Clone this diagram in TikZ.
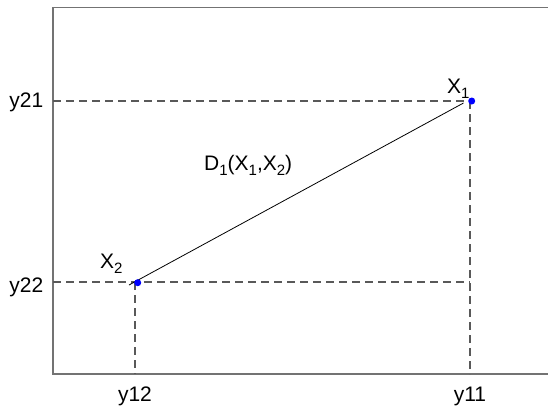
\documentclass[tikz,border=0pt]{standalone}
\usepackage{fontspec}
\setmainfont{Liberation Sans}
\newcommand{\lowsub}[1]{\raisebox{-5pt}{\fontsize{15}{15}\selectfont #1}}
\begin{document}
\begin{tikzpicture}[x=1pt,y=-1pt,
  axisline/.style={draw=black!55, line width=1.8pt},
  guide/.style={draw=black!65, line width=1.1pt, dash pattern=on 8pt off 5pt},
  distline/.style={draw=black, line width=0.8pt},
  pointdot/.style={circle, fill=blue, inner sep=0pt, minimum size=7pt},
  lbl/.style={inner sep=0pt, font=\fontsize{21}{22}\selectfont}
]
\useasboundingbox[clip] (0,0) rectangle (548,405);
\fill[white] (0,0) rectangle (548,405);
% axes
\coordinate (tl) at (53,7.5);
\coordinate (tr) at (548,7.5);
\coordinate (bl) at (53,374);
\coordinate (br) at (548,374);
\draw[axisline] (tr) -- (tl) -- (bl) -- (br);
% guide coordinates
\coordinate (h1s) at (53,101);
\coordinate (h1e) at (470,101);
\coordinate (v1b) at (470,374);
\coordinate (h2s) at (53,282);
\coordinate (h2e) at (470,282);
\coordinate (v2t) at (135,282);
\coordinate (v2b) at (135,374);
\draw[guide] (h1s) -- (h1e);
\draw[guide] (h1e) -- (v1b);
\draw[guide] (h2s) -- (h2e);
\draw[guide] (v2t) -- (v2b);
% distance line
\coordinate (la) at (129,285);
\coordinate (lb) at (463.5,103);
\draw[distline] (la) -- (lb);
% points
\node[pointdot] (x1) at (471.7,101) {};
\node[pointdot] (x2) at (137.7,282.7) {};
% labels
\node[lbl, anchor=base west] (lx1) at (447,93) {X\lowsub{1}};
\node[lbl, anchor=base west] (lx2) at (100,268) {X\lowsub{2}};
\node[lbl, anchor=base west] (ld) at (204,170) {D\lowsub{1}(X\lowsub{1},X\lowsub{2})};
\node[lbl, anchor=base east] (ly21) at (43.5,107.5) {y21};
\node[lbl, anchor=base east] (ly22) at (43.5,292) {y22};
\node[lbl, anchor=base] (ly12) at (135,401) {y12};
\node[lbl, anchor=base] (ly11) at (470,401) {y11};
\end{tikzpicture}
\end{document}
